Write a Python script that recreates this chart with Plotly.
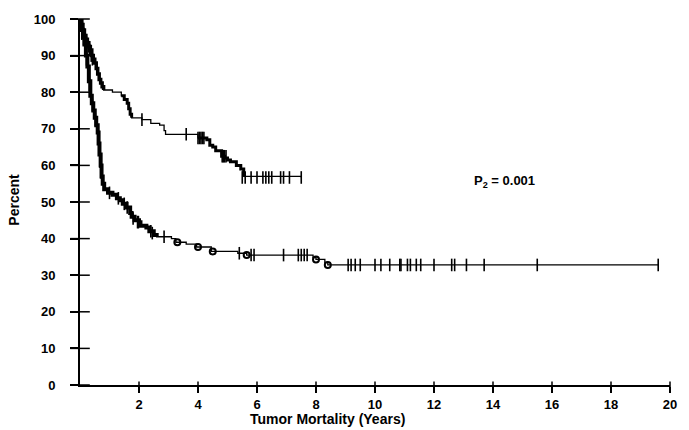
import plotly.graph_objects as go

# ---- data ----
upper_t = [0, 0.05, 0.1, 0.15, 0.2, 0.25, 0.3, 0.35, 0.4, 0.45, 0.5, 0.55, 0.6, 0.65, 0.7, 0.75, 0.8,
           1.1, 1.4, 1.5, 1.6, 1.65, 1.7, 1.75, 2.1, 2.4, 2.7, 2.85, 2.9,
           4.0, 4.3, 4.4, 4.5, 4.6, 4.8, 4.9, 5.0, 5.1, 5.3, 5.45, 5.55, 7.5]
upper_s = [100, 98.5, 97, 95.5, 94.5, 93.5, 92.5, 91.5, 90, 89, 88, 86.5, 85, 83.5, 82.5, 81.5, 80.6,
           80, 79, 78, 77, 75.5, 74, 73, 72.5, 71.5, 71, 69.5, 68.5,
           67.5, 67, 65.5, 65, 64, 62.5, 62, 61.5, 61, 60, 59, 57, 56.7]

lower_t = [0, 0.05, 0.1, 0.15, 0.2, 0.25, 0.3, 0.35, 0.4, 0.45, 0.5, 0.55, 0.6, 0.63, 0.66, 0.7, 0.73,
           0.77, 0.82, 0.95, 1.1, 1.25, 1.35, 1.45, 1.58, 1.7, 1.75, 1.85, 2.0, 2.05, 2.25, 2.35, 2.5,
           2.6, 3.1, 3.25, 3.6, 3.95, 4.45, 5.35, 5.65, 7.9, 8.0, 8.3, 8.4, 19.6]
lower_s = [100, 97, 95, 93, 90, 87, 83, 79, 77, 75, 73, 71, 69, 66, 63, 60, 57,
           55, 53.5, 52.5, 52, 51, 50.5, 49.5, 48.5, 47, 46, 45, 44.5, 43.5, 43, 42, 41,
           40.5, 40, 39, 38.5, 37.7, 36.5, 36, 35.5, 34.8, 34.3, 33.5, 32.8, 32.8]

upper_cens_t = [0.02, 0.04, 0.08, 0.12, 0.18, 0.22, 0.28, 0.33, 0.38, 0.42, 2.1, 3.6,
                4.0, 4.05, 4.1, 4.15, 4.2, 4.82, 4.86, 4.9, 4.95,
                5.5, 5.6, 5.8, 6.0, 6.2, 6.3, 6.4, 6.5, 6.8, 6.9, 7.1, 7.5]
upper_cens_s = [99.5, 99, 97.5, 96, 94.5, 93.5, 92.5, 91.5, 90, 89, 72.5, 68.5,
                67.5, 67.5, 67.5, 67.5, 67.5, 62.5, 62.5, 62.5, 62.5,
                56.7, 56.7, 56.7, 56.7, 56.7, 56.7, 56.7, 56.7, 56.7, 56.7, 56.7, 56.7]

lower_cens_t = [0.02, 0.06, 0.12, 0.17, 0.22, 0.27, 0.32, 0.37, 0.42, 0.47, 0.52, 0.57, 0.62,
                0.68, 0.72, 0.75, 1.0, 1.3, 1.5, 1.6, 1.8, 1.95, 1.98, 2.4, 2.45, 2.85,
                5.4, 5.8, 5.9, 6.9, 7.4, 7.5, 7.6, 7.7,
                9.09, 9.19, 9.33, 9.5, 10.0, 10.2, 10.5, 10.84, 10.88, 11.1, 11.2, 11.4,
                11.55, 12.0, 12.6, 12.7, 13.1, 13.7, 15.5, 19.6]
lower_cens_s = [99, 96, 94.5, 92, 89, 86, 82, 78.5, 76.5, 74.5, 72.5, 70.5, 68,
                61, 58, 56.5, 52.5, 51, 49.5, 48.5, 45.5, 44.5, 44.5, 42, 41.5, 40.5,
                36, 35.5, 35.5, 35.5, 35.5, 35.5, 35.5, 35.5,
                32.8, 32.8, 32.8, 32.8, 32.8, 32.8, 32.8, 32.8, 32.8, 32.8, 32.8, 32.8,
                32.8, 32.8, 32.8, 32.8, 32.8, 32.8, 32.8, 32.8]

circle_t = [3.3, 4.0, 4.5, 5.65, 8.0, 8.4]
circle_s = [39, 37.7, 36.5, 35.5, 34.3, 32.8]

x_ticks = [2, 4, 6, 8, 10, 12, 14, 16, 18, 20]
y_ticks = [0, 10, 20, 30, 40, 50, 60, 70, 80, 90, 100]

FONT = "Liberation Sans, Arial, sans-serif"

fig = go.Figure()


def sub(t, s, lo, hi):
    pairs = [(a, b) for a, b in zip(t, s) if lo <= a <= hi]
    return [p[0] for p in pairs], [p[1] for p in pairs]


# base curves
for t, s in [(upper_t, upper_s), (lower_t, lower_s)]:
    fig.add_trace(go.Scatter(x=t, y=s, mode="lines", line=dict(color="black", width=1.3, shape="hv"),
                             showlegend=False, hoverinfo="skip"))

# heavy (dense) segments
for t, s, lo, hi, w in [(upper_t, upper_s, 0, 0.8, 3.5), (upper_t, upper_s, 1.4, 1.75, 3),
                        (upper_t, upper_s, 4.0, 5.55, 3), (lower_t, lower_s, 0, 2.6, 4)]:
    xt, ys = sub(t, s, lo, hi)
    fig.add_trace(go.Scatter(x=xt, y=ys, mode="lines", line=dict(color="black", width=w, shape="hv"),
                             showlegend=False, hoverinfo="skip"))

# censor marks
for t, s in [(upper_cens_t, upper_cens_s), (lower_cens_t, lower_cens_s)]:
    fig.add_trace(go.Scatter(x=t, y=s, mode="markers",
                             marker=dict(symbol="line-ns-open", size=9, color="black",
                                         line=dict(color="black", width=1.6)),
                             showlegend=False, hoverinfo="skip"))

fig.add_trace(go.Scatter(x=circle_t, y=circle_s, mode="markers",
                         marker=dict(symbol="circle-open", size=6, color="black",
                                     line=dict(color="black", width=2)),
                         showlegend=False, hoverinfo="skip"))

# inner halves of the crossing axis tick marks
fig.add_trace(go.Scatter(x=[0] * len(y_ticks), y=y_ticks, mode="markers", cliponaxis=False,
                         marker=dict(symbol="line-ew-open", size=14, color="black",
                                     line=dict(color="black", width=1.5)),
                         showlegend=False, hoverinfo="skip"))
fig.add_trace(go.Scatter(x=x_ticks, y=[0] * len(x_ticks), mode="markers", cliponaxis=False,
                         marker=dict(symbol="line-ns-open", size=5, color="black",
                                     line=dict(color="black", width=1.5)),
                         showlegend=False, hoverinfo="skip"))

axis_font = dict(family=FONT, size=13, color="black", weight="bold")

fig.update_layout(
    width=689, height=430,
    margin=dict(l=80, r=15, t=19, b=45),
    paper_bgcolor="white", plot_bgcolor="white",
    xaxis=dict(range=[0, 20], tickvals=x_ticks, ticks="outside", ticklen=6, tickwidth=1.5,
               tickcolor="black", showline=True, linecolor="black", linewidth=2, showgrid=False,
               zeroline=False, tickfont=axis_font, ticklabelstandoff=0),
    yaxis=dict(range=[0, 100], tickvals=y_ticks, ticks="outside", ticklen=8, tickwidth=1.5,
               tickcolor="black", showline=True, linecolor="black", linewidth=2, showgrid=False,
               zeroline=False, tickfont=axis_font, ticklabelstandoff=12),
    annotations=[
        dict(text="<b>Tumor Mortality (Years)</b>", xref="paper", yref="paper", x=0.42, y=-0.092,
             xanchor="center", yanchor="middle", showarrow=False,
             font=dict(family=FONT, size=14, color="black")),
        dict(text="<b>Percent</b>", xref="paper", yref="paper", x=-0.111, y=0.505, textangle=-90,
             xanchor="center", yanchor="middle", showarrow=False,
             font=dict(family=FONT, size=14, color="black")),
        dict(text="<b>P<sub>2</sub> = 0.001</b>", xref="x", yref="y", x=13.3, y=55.5,
             xanchor="left", yanchor="middle", showarrow=False,
             font=dict(family=FONT, size=13, color="black")),
    ],
)

fig.write_html("out.html")
